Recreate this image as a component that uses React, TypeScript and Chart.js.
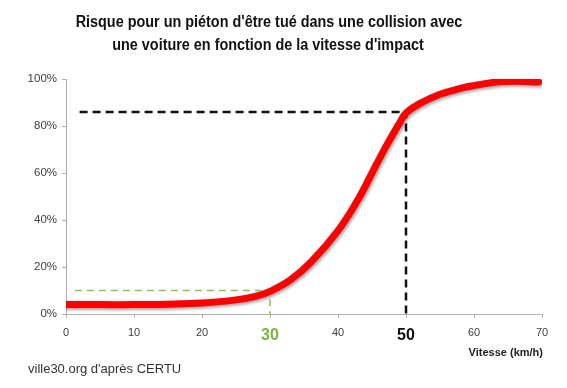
import React, { useEffect, useRef } from "react";
import { Chart, registerables } from "chart.js";

Chart.register(...registerables);

// ---- data ----
const titleLines = [
  "Risque pour un piéton d'être tué dans une collision avec",
  "une voiture en fonction de la vitesse d'impact",
];
const sourceText = "ville30.org d'après CERTU";
const xAxisTitle = "Vitesse (km/h)";

const speeds = [0, 5, 10, 15, 20, 25, 28, 30, 33, 36, 40, 43, 45, 47, 49, 50, 52, 55, 58, 60, 63, 66, 69.5];
const risk = [4, 4, 4, 4.2, 4.7, 6, 7.6, 9.6, 14.5, 22, 35.5, 49, 60, 71, 81, 85.5, 89.5, 93.5, 96, 97.2, 98.6, 99, 98.7];

const xTicks = [0, 10, 20, 30, 40, 50, 60, 70];
const yTicks = [0, 20, 40, 60, 80, 100];

const refSpeeds = [30, 50];
const refRisks = [10, 86];
const refStarts = [1.3, 2];
const refColors = ["#8cc152", "#111111"];
const refWidths = [1.5, 2.5];
const refDashes = [[7, 5], [8, 5]];

const FONT = "'Liberation Sans', Arial, sans-serif";

export default function App() {
  const ref = useRef<HTMLCanvasElement | null>(null);

  useEffect(() => {
    if (!ref.current) return;
    const refDatasets = refSpeeds.map((s, i) => ({
      type: "line" as const,
      data: [
        { x: refStarts[i], y: refRisks[i] },
        { x: s, y: refRisks[i] },
        { x: s, y: 0 },
      ],
      borderColor: refColors[i],
      borderWidth: refWidths[i],
      borderDash: refDashes[i],
      pointRadius: 0,
      tension: 0,
      fill: false,
      order: 2,
    }));

    const condensed = (c: any, text: string, x: number, y: number, sx: number, align: string) => {
      c.save();
      c.translate(x, y);
      c.scale(sx, 1);
      c.textAlign = align;
      c.fillText(text, 0, 0);
      c.restore();
    };

    const decor = {
      id: "decor",
      beforeDatasetDraw(chart: any, args: any) {
        if (args.index === 0) {
          const c = chart.ctx;
          c.save();
          c.shadowColor = "rgba(0,0,0,0.35)";
          c.shadowBlur = 3;
          c.shadowOffsetX = 1.5;
          c.shadowOffsetY = 2;
        }
      },
      afterDatasetDraw(chart: any, args: any) {
        if (args.index === 0) chart.ctx.restore();
      },
      afterDraw(chart: any) {
        const c = chart.ctx;
        c.save();
        c.fillStyle = "#111";
        c.textBaseline = "middle";
        c.font = `bold 16px ${FONT}`;
        condensed(c, titleLines[0], 269, 23, 0.9, "center");
        condensed(c, titleLines[1], 268, 46, 0.9, "center");
        c.font = `bold 11px ${FONT}`;
        c.fillStyle = "#222";
        condensed(c, xAxisTitle, 543, 353, 1, "right");
        c.font = `13px ${FONT}`;
        c.fillStyle = "#333";
        condensed(c, sourceText, 28, 369, 1, "left");
        c.restore();
      },
    };

    const chart = new Chart(ref.current, {
      type: "line",
      data: {
        datasets: [
          {
            data: speeds.map((s, i) => ({ x: s, y: risk[i] })),
            borderColor: "#ff0000",
            borderWidth: 7,
            borderCapStyle: "round",
            borderJoinStyle: "round",
            pointRadius: 0,
            tension: 0.4,
            fill: false,
            order: 1,
          },
          ...refDatasets,
        ] as any,
      },
      options: {
        animation: false,
        responsive: false,
        maintainAspectRatio: false,
        layout: { padding: { left: 0, right: 25, top: 79, bottom: 0 } },
        plugins: { legend: { display: false }, tooltip: { enabled: false }, title: { display: false } },
        scales: {
          x: {
            type: "linear",
            min: 0,
            max: 70,
            afterBuildTicks: (scale: any) => {
              scale.ticks = xTicks.map((v) => ({ value: v }));
            },
            afterFit: (scale: any) => {
              scale.height = 74;
            },
            border: { color: "#b0b0b0", width: 1 },
            grid: { drawOnChartArea: false, drawTicks: true, tickLength: 4, color: "#b0b0b0" },
            ticks: {
              padding: 8,
              maxRotation: 0,
              autoSkip: false,
              color: (ctx: any) =>
                ctx.tick && ctx.tick.value === 30 ? "#7cb342" : ctx.tick && ctx.tick.value === 50 ? "#111" : "#404040",
              font: (ctx: any) =>
                ctx.tick && (ctx.tick.value === 30 || ctx.tick.value === 50)
                  ? { family: FONT, size: 16, weight: "bold" }
                  : { family: FONT, size: 11 },
            },
          },
          y: {
            type: "linear",
            min: 0,
            max: 100,
            afterBuildTicks: (scale: any) => {
              scale.ticks = yTicks.map((v) => ({ value: v }));
            },
            afterFit: (scale: any) => {
              scale.width = 66;
            },
            border: { color: "#b0b0b0", width: 1 },
            grid: { drawOnChartArea: false, drawTicks: true, tickLength: 4, color: "#b0b0b0" },
            ticks: {
              padding: 5,
              color: "#404040",
              font: { family: FONT, size: 11.5 },
              callback: (v: any) => `${v}%`,
            },
          },
        },
      },
      plugins: [decor],
    } as any);
    return () => chart.destroy();
  }, []);

  return (
    <div style={{ position: "fixed", left: 0, top: 0, width: 567, height: 388, background: "#fff" }}>
      <canvas ref={ref} width={567} height={388} style={{ width: 567, height: 388, display: "block" }} />
    </div>
  );
}
